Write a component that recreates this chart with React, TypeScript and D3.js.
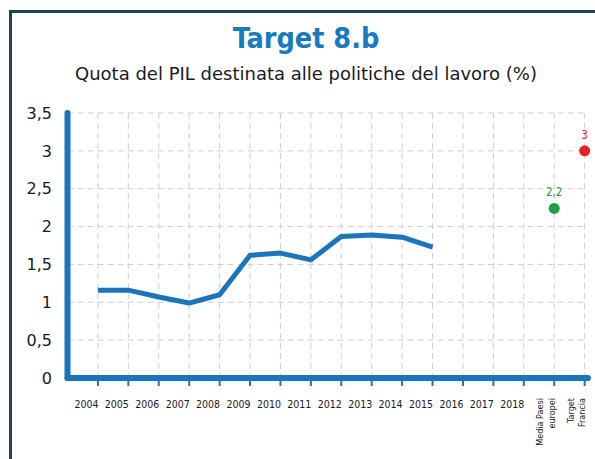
import React from "react";
import * as d3 from "d3";

const categories = ["2004","2005","2006","2007","2008","2009","2010","2011","2012","2013","2014","2015","2016","2017","2018","Media Paesi europei","Target Francia"];
const years = ["2004","2005","2006","2007","2008","2009","2010","2011","2012","2013","2014","2015"];
const values = [1.16,1.16,1.07,0.99,1.1,1.62,1.65,1.56,1.87,1.89,1.86,1.73];
const refCats = ["Media Paesi europei","Target Francia"];
const refValues = [2.24,3];
const refLabels = ["2,2","3"];
const refColors = ["#1e9e4a","#e8202a"];
const yTicks = [0,0.5,1,1.5,2,2.5,3,3.5];
const catLabelLines: Record<string,string[]> = {
  "Media Paesi europei": ["Media Paesi","europei"],
  "Target Francia": ["Target","Francia"],
};

const W = 595, H = 459;
const blue = "#1a75bc";
const cond = "'DejaVu Sans Condensed', 'DejaVu Sans', sans-serif";
const sans = "'DejaVu Sans', sans-serif";

export default function App() {
  const x0 = 67.5;
  const step = 30.42;
  const x = d3.scalePoint<string>().domain(["", ...categories]).range([x0, x0 + step * categories.length]);
  const y = d3.scaleLinear().domain([0, 3.5]).range([378, 113]);
  const line = d3.line<number>().x((_, i) => x(years[i])!).y(d => y(d)).curve(d3.curveLinear);
  const xEnd = 588;
  return (
    <svg width={W} height={H} style={{ position: "absolute", left: 0, top: 0 }}>
      <rect x={0} y={0} width={W} height={H} fill="#fff" />
      <rect x={10.5} y={11.5} width={W} height={H} fill="none" stroke="#1d4556" strokeWidth={3} />
      <text x={306} y={48} textAnchor="middle" fontFamily={cond} fontWeight="bold" fontSize={28.5} fill="#1a7abf">Target 8.b</text>
      <text x={306} y={80} textAnchor="middle" fontFamily={sans} fontSize={18} fill="#1a1a1a">Quota del PIL destinata alle politiche del lavoro (%)</text>
      {/* grid */}
      {yTicks.filter(t => t > 0).map(t => (
        <line key={"h" + t} x1={x0} x2={xEnd - 3} y1={y(t)} y2={y(t)} stroke="#cfcfcf" strokeWidth={1} strokeDasharray="6,4" />
      ))}
      {categories.map(c => (
        <line key={"v" + c} x1={x(c)} x2={x(c)} y1={y(3.5)} y2={y(0)} stroke="#cfcfcf" strokeWidth={1} strokeDasharray="6,4" />
      ))}
      {/* y labels */}
      {yTicks.map(t => (
        <text key={"yl" + t} x={52} y={y(t)} dy="0.36em" textAnchor="end" fontFamily={sans} fontSize={16} fill="#1a1a1a">
          {d3.format(".1~f")(t).replace(".", ",")}
        </text>
      ))}
      {/* x ticks */}
      {categories.map(c => (
        <line key={"t" + c} x1={x(c)} x2={x(c)} y1={y(0)} y2={y(0) + 8} stroke={blue} strokeWidth={2} />
      ))}
      {/* axes */}
      <line x1={x0} x2={x0} y1={y(3.5)} y2={y(0)} stroke={blue} strokeWidth={6} strokeLinecap="round" />
      <line x1={x0} x2={xEnd} y1={y(0)} y2={y(0)} stroke={blue} strokeWidth={6} strokeLinecap="round" />
      {/* x labels */}
      {categories.map(c => {
        const lines = catLabelLines[c];
        if (!lines) {
          return (
            <text key={"xl" + c} x={x(c)! - 11.5} y={408} textAnchor="middle" fontFamily={cond} fontSize={10.5} fill="#1a1a1a">{c}</text>
          );
        }
        return (
          <g key={"xl" + c} transform={`translate(${x(c)! - 8.5},398) rotate(-90)`}>
            {lines.map((l, i) => (
              <text key={i} x={0} y={(i - (lines.length - 1) / 2) * 11.5} dy="0.35em" textAnchor="end" fontFamily={cond} fontSize={9} fill="#1a1a1a">{l}</text>
            ))}
          </g>
        );
      })}
      {/* series */}
      <path d={line(values)!} fill="none" stroke={blue} strokeWidth={5} strokeLinejoin="round" />
      {refCats.map((c, i) => (
        <g key={"r" + c}>
          <circle cx={x(c)} cy={y(refValues[i])} r={5.5} fill={refColors[i]} />
          <text x={x(c)} y={y(refValues[i]) - 12} textAnchor="middle" fontFamily={cond} fontSize={11.5} fill={refColors[i]}>{refLabels[i]}</text>
        </g>
      ))}
    </svg>
  );
}
